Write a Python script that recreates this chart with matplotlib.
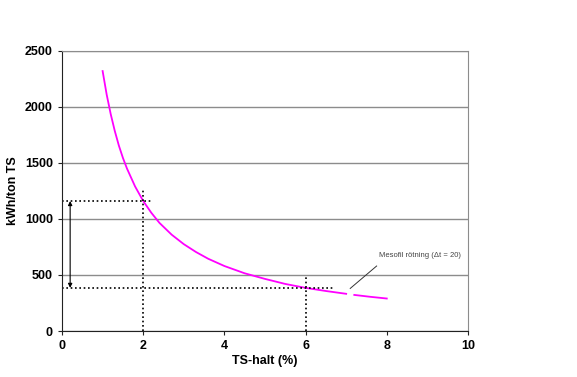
import matplotlib.pyplot as plt

plt.rcParams['font.family'] = ['Liberation Sans', 'DejaVu Sans']

# values
ts_halt = [1.0, 1.1, 1.2, 1.3, 1.4, 1.5, 1.6, 1.8, 2.0, 2.2, 2.4, 2.7, 3.0,
           3.3, 3.6, 4.0, 4.5, 5.0, 5.5, 6.0, 6.5, 7.0]
kwh_ton = [2320, 2110, 1935, 1785, 1655, 1545, 1450, 1290, 1160, 1055, 965,
           860, 775, 705, 645, 580, 515, 465, 420, 385, 357, 332]
ts_halt_tail = [7.2, 7.6, 8.0]
kwh_tail = [322, 305, 290]

x_ref = [2, 6]
y_ref = [1160, 385]
x_ticks = [0, 2, 4, 6, 8, 10]
y_ticks = [0, 500, 1000, 1500, 2000, 2500]
label = "Mesofil rötning (Δt = 20)"

fig = plt.figure(figsize=(5.77, 3.77), dpi=100)
ax = fig.add_axes([0.1075, 0.122, 0.7035, 0.743])

ax.set_xlim(0, 10)
ax.set_ylim(0, 2500)
ax.set_xticks(x_ticks)
ax.set_yticks(y_ticks)
ax.yaxis.grid(True, color='#8c8c8c', linewidth=1.0)
ax.set_axisbelow(True)

for s in ['top', 'right']:
    ax.spines[s].set_color('#8c8c8c')
for s in ['left', 'bottom']:
    ax.spines[s].set_color('#222222')
ax.tick_params(direction='out', length=3, width=0.8, color='#222222', labelsize=9)
for t in ax.get_xticklabels() + ax.get_yticklabels():
    t.set_fontweight('bold')

ax.plot(ts_halt, kwh_ton, color='#ff00ff', linewidth=1.3)
ax.plot(ts_halt_tail, kwh_tail, color='#ff00ff', linewidth=1.3)

# reference dotted lines
dot = dict(color='black', linestyle=(0, (1, 1.6)), linewidth=1.2)
ax.plot([0, 2.25], [y_ref[0], y_ref[0]], **dot)
ax.plot([x_ref[0], x_ref[0]], [0, 1260], **dot)
ax.plot([0, 6.7], [y_ref[1], y_ref[1]], **dot)
ax.plot([x_ref[1], x_ref[1]], [0, 500], **dot)

ax.annotate('', xy=(0.2, y_ref[1]), xytext=(0.2, y_ref[0]),
            arrowprops=dict(arrowstyle='<|-|>', color='black', lw=0.8,
                            mutation_scale=6, shrinkA=0, shrinkB=0))

ax.plot([7.1, 7.75], [380, 580], color='#333333', linewidth=0.7)
ax.text(7.8, 640, label, fontsize=5.5, color='#444444', ha='left', va='bottom')

ax.set_xlabel('TS-halt (%)', fontsize=9, fontweight='bold', labelpad=2)
ax.set_ylabel('kWh/ton TS', fontsize=9, fontweight='bold', labelpad=4)

fig.savefig('out.png', dpi=100)
